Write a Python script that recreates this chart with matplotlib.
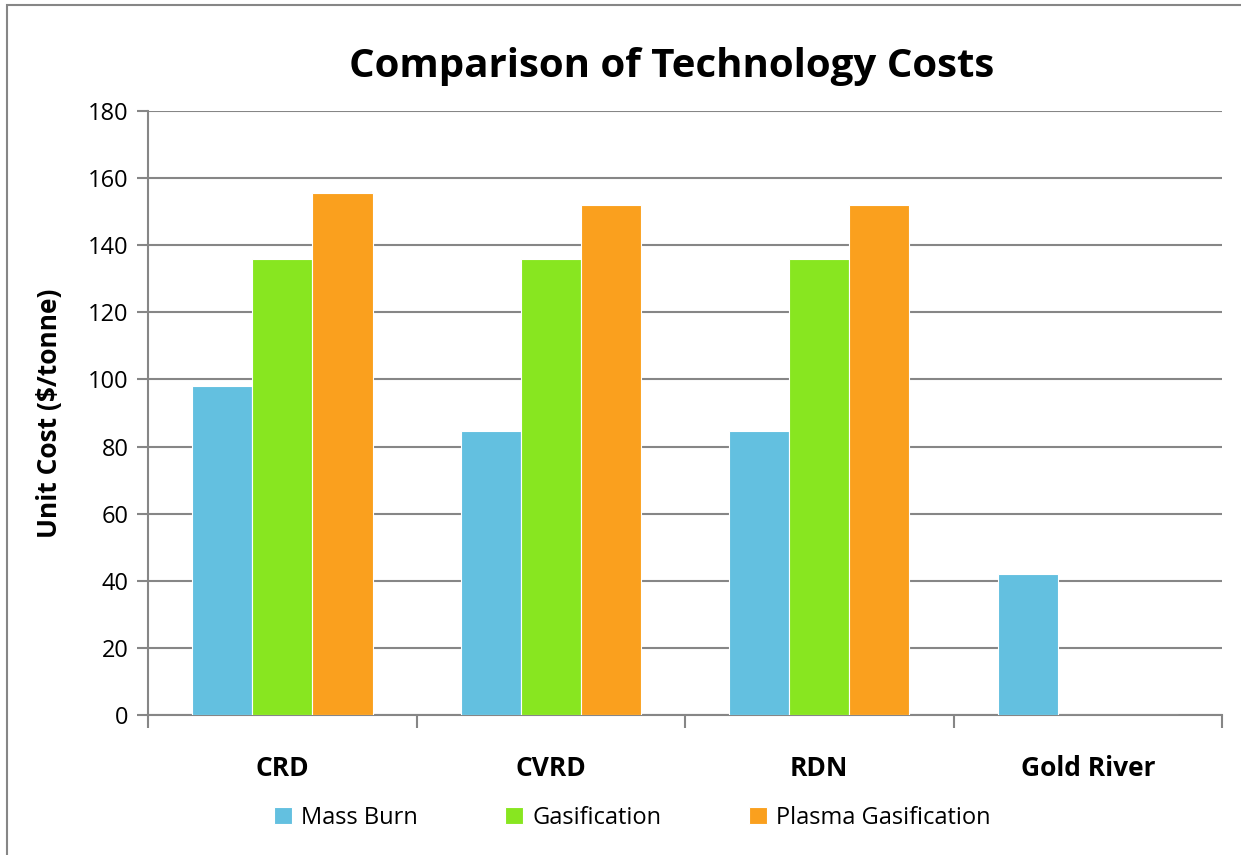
import numpy as np
import matplotlib.pyplot as plt
from matplotlib.patches import Rectangle

plt.rcParams['font.family'] = ['Open Sans', 'DejaVu Sans']

regions = ['CRD', 'CVRD', 'RDN', 'Gold River']
mass_burn = [98, 84.5, 84.5, 42]
gasification = [136, 136, 136, 0]
plasma = [155.5, 152, 152, 0]
series_names = ['Mass Burn', 'Gasification', 'Plasma Gasification']
colors = ['#63C0E0', '#88E620', '#FAA01E']
yticks = [0, 20, 40, 60, 80, 100, 120, 140, 160, 180]

fig = plt.figure(figsize=(12.41, 8.55), dpi=100)
ax = fig.add_axes([0.1193, 0.1637, 0.8654, 0.7065])

x = np.arange(len(regions))
w = 0.224
for i, (vals, name, c) in enumerate(zip([mass_burn, gasification, plasma], series_names, colors)):
    ax.bar(x + (i - 1) * w, vals, width=w, color=c, edgecolor='white', linewidth=0.8, label=name, zorder=3)

ax.set_xlim(-0.5, len(regions) - 0.5)
ax.set_ylim(0, 180)
ax.set_yticks(yticks)
ax.tick_params(axis='y', labelsize=17, length=8, color='#868686', width=1.5, pad=6)
ax.yaxis.grid(True, color='#868686', linewidth=1.5, zorder=0)

# category ticks at group boundaries, labels in the middle
ax.set_xticks(np.arange(len(regions) + 1) - 0.5)
ax.set_xticklabels([])
ax.set_xticks(x, minor=True)
ax.set_xticklabels(regions, minor=True, fontsize=19, fontweight='bold')
ax.tick_params(axis='x', which='major', length=9, color='#868686', width=1.5)
ax.tick_params(axis='x', which='minor', length=0, pad=29)

for s in ['top', 'right']:
    ax.spines[s].set_visible(False)
for s in ['left', 'bottom']:
    ax.spines[s].set_color('#868686')
    ax.spines[s].set_linewidth(1.5)

ax.set_ylabel('Unit Cost ($/tonne)', fontsize=19, fontweight='bold', labelpad=18)
fig.text(0.541, 0.922, 'Comparison of Technology Costs', fontsize=29, fontweight='bold',
         ha='center', va='center')

ax.legend(loc='center', bbox_to_anchor=(0.5095, 0.0435), bbox_transform=fig.transFigure,
          ncol=3, frameon=False, fontsize=17, handlelength=0.75, handleheight=0.75,
          columnspacing=3.7, handletextpad=0.4)

fig.patches.append(Rectangle((0.006, -0.01), 1.0, 1.004, transform=fig.transFigure,
                             fill=False, edgecolor='#868686', linewidth=1.5))

plt.savefig('out.png', dpi=100)
